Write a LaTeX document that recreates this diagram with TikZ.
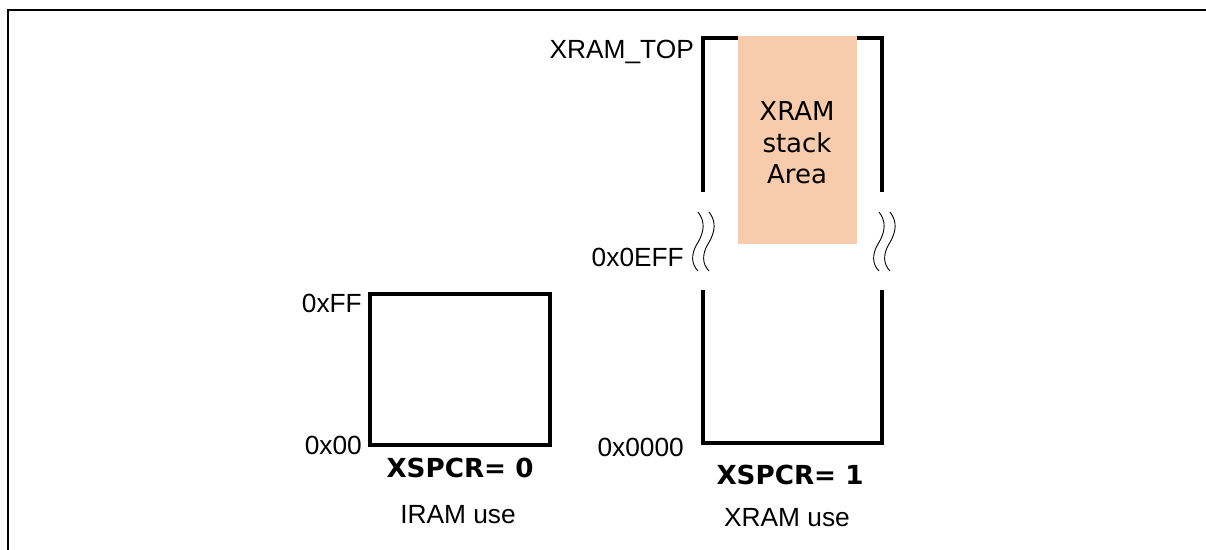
\documentclass[tikz,border=0pt]{standalone}
\usepackage{fontspec}
\setmainfont{Liberation Sans}
\newfontfamily\dvs{DejaVu Sans}
\begin{document}
\begin{tikzpicture}[x=1pt,y=-1pt,
  frameline/.style={line width=2pt},
  memline/.style={line width=3.8pt,line cap=butt,line join=miter},
  brk/.style={line width=0.9pt},
  lbl/.style={inner sep=0pt,font=\fontsize{26.3}{29}\selectfont},
  bold/.style={inner sep=0pt,font=\dvs\bfseries\fontsize{26.2}{29}\selectfont},
  stackfill/.style={fill=stackc,draw=none}]
\definecolor{stackc}{HTML}{F8CBAD}
\useasboundingbox (0,0) rectangle (1206,549);
% outer frame (only top and left visible)
\coordinate (f1) at (1210,10);
\coordinate (f2) at (8,10);
\coordinate (f3) at (8,553);
\draw[frameline] (f1) -- (f2) -- (f3);
% IRAM box
\node[draw,memline,minimum width=180pt,minimum height=151pt,inner sep=0pt,anchor=north west] (iram) at (368,292) {};
% XRAM column
\coordinate (xtl) at (703,38);
\coordinate (xtr) at (882,38);
\coordinate (xl1) at (703,192);
\coordinate (xr1) at (882,192);
\coordinate (xl2) at (703,290);
\coordinate (xr2) at (882,290);
\coordinate (xbl) at (703,443);
\coordinate (xbr) at (882,443);
\draw[memline] (xl1) -- (xtl) -- (xtr) -- (xr1);
\draw[memline] (xl2) -- (xbl) -- (xbr) -- (xr2);
% stack area
\node[stackfill,minimum width=119pt,minimum height=208pt,anchor=north west,inner sep=0pt] (stack) at (738,36) {};
\node[align=center,inner sep=0pt,font=\dvs\fontsize{26}{31.5}\selectfont] (stacktxt) at (797,143) {XRAM\\stack\\Area};
% break marks
\foreach \x in {698,709,879,890}{
  \draw[brk] (\x,212) .. controls (\x+7,221) and (\x+7,231) .. (\x-1,244) .. controls (\x-7,254) and (\x-7,264) .. (\x,271);
}
% labels
\node[lbl,anchor=east] (lff) at (362,303) {0xFF};
\node[lbl,anchor=east] (l00) at (362,445) {0x00};
\node[bold] (x0) at (460,468) {XSPCR= 0};
\node[lbl] (iu) at (458,515) {IRAM use};
\node[lbl,anchor=east] (l0000) at (684,447) {0x0000};
\node[bold] (x1) at (790,475) {XSPCR= 1};
\node[lbl] (xu) at (787,518) {XRAM use};
\node[lbl,anchor=east] (leff) at (684,257) {0x0EFF};
\node[lbl,anchor=east] (ltop) at (694,52) {XRAM\_TOP};
\end{tikzpicture}
\end{document}
